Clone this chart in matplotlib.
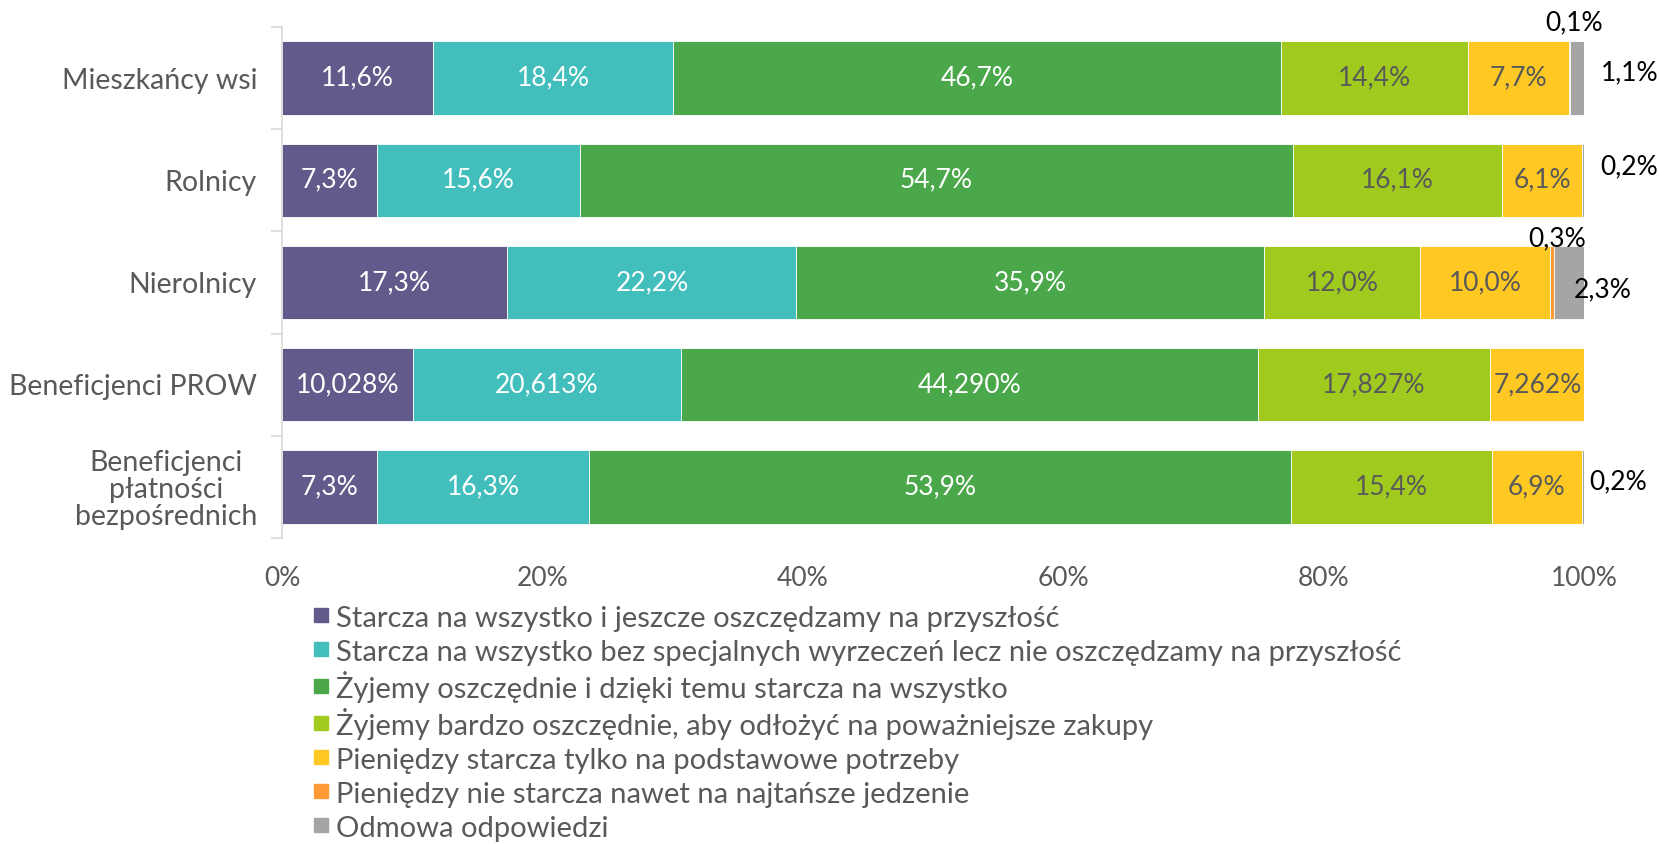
import numpy as np
import matplotlib.pyplot as plt
from matplotlib.lines import Line2D

plt.rcParams['font.family'] = ['Lato', 'DejaVu Sans']

categories = ['Mieszkańcy wsi', 'Rolnicy', 'Nierolnicy', 'Beneficjenci PROW',
              'Beneficjenci\npłatności\nbezpośrednich']
series_names = [
    'Starcza na wszystko i jeszcze oszczędzamy na przyszłość',
    'Starcza na wszystko bez specjalnych wyrzeczeń lecz nie oszczędzamy na przyszłość',
    'Żyjemy oszczędnie i dzięki temu starcza na wszystko',
    'Żyjemy bardzo oszczędnie, aby odłożyć na poważniejsze zakupy',
    'Pieniędzy starcza tylko na podstawowe potrzeby',
    'Pieniędzy nie starcza nawet na najtańsze jedzenie',
    'Odmowa odpowiedzi',
]
s1 = [11.6, 7.3, 17.3, 10.028, 7.3]
s2 = [18.4, 15.6, 22.2, 20.613, 16.3]
s3 = [46.7, 54.7, 35.9, 44.290, 53.9]
s4 = [14.4, 16.1, 12.0, 17.827, 15.4]
s5 = [7.7, 6.1, 10.0, 7.262, 6.9]
s6 = [0.1, 0.0, 0.3, 0.0, 0.0]
s7 = [1.1, 0.2, 2.3, 0.0, 0.2]
decimals = [1, 1, 1, 3, 1]

series = [s1, s2, s3, s4, s5, s6, s7]
colors = ['#625A8A', '#42BEBC', '#4AA84A', '#A0CB1E', '#FFC822', '#FF9933', '#A5A5A5']
label_colors = ['white', 'white', 'white', '#595959', '#595959', 'black', 'black']
grey = '#595959'

# recznie dopasowane przesuniecia etykiet poza slupkami (w % i pt)
top_dx = [0.35, 0, 0.35, 0, 0]
top_dy = [4, 0, -4, 0, 0]
right_dx = [1.3, 1.2, -0.8, 0, 0.4]
right_dy = [4, 10, -5, 4, 4]


def fmt(v, d):
    return f'{v:.{d}f}'.replace('.', ',') + '%'


fig = plt.figure(figsize=(16.59, 8.44), dpi=100)
ax = fig.add_axes([0.170, 0.3626, 0.785, 0.6054])

y = np.arange(len(categories))
left = np.zeros(len(categories))
h = 0.72
for k, vals in enumerate(series):
    vals = np.array(vals)
    ax.barh(y, vals, left=left, height=h, color=colors[k],
            edgecolor='white', linewidth=0.6)
    for i, v in enumerate(vals):
        if v <= 0:
            continue
        cx = left[i] + v / 2
        if v >= 3:
            ax.text(cx, y[i], fmt(v, decimals[i]), ha='center', va='center',
                    color=label_colors[k], fontsize=19)
        elif k == 5:
            ax.annotate(fmt(v, decimals[i]), (cx + top_dx[i], y[i] - h / 2),
                        xytext=(0, top_dy[i]), textcoords='offset points',
                        ha='center', va='bottom', fontsize=19, color='black',
                        annotation_clip=False)
        else:
            ax.annotate(fmt(v, decimals[i]), (left[i] + v + right_dx[i], y[i]),
                        xytext=(0, right_dy[i]), textcoords='offset points',
                        ha='left', va='center', fontsize=19, color='black',
                        annotation_clip=False)
    left += vals

ax.set_xlim(0, 100)
ax.set_ylim(len(categories) - 0.5, -0.5)
ax.set_xticks(np.arange(0, 101, 20))
ax.set_xticklabels([f'{t}%' for t in range(0, 101, 20)])
ax.set_yticks(y)
ax.set_yticklabels(categories)
ax.set_yticks(np.arange(-0.5, len(categories)), minor=True)
ax.tick_params(axis='y', which='major', length=0, pad=18, labelsize=20.5, labelcolor=grey)
ax.tick_params(axis='y', which='minor', length=8, color='#D9D9D9', width=1.2)
ax.tick_params(axis='x', length=0, labelsize=19, labelcolor=grey, pad=20)
for lab in ax.get_yticklabels():
    lab.set_multialignment('center')
    lab.set_linespacing(1.05)
for s in ['top', 'right', 'bottom']:
    ax.spines[s].set_visible(False)
ax.spines['left'].set_color('#D9D9D9')
ax.spines['left'].set_linewidth(1.2)

# kwadratowe znaczniki, zeby wszystkie wiersze legendy mialy rowna wysokosc
handles = [Line2D([], [], marker='s', linestyle='none', markersize=10.5,
                  markerfacecolor=c, markeredgecolor=c) for c in colors]
fig.legend(handles, series_names, loc='upper left', bbox_to_anchor=(0.1876, 0.2862),
           frameon=False, fontsize=21, labelcolor=grey, handlelength=0.7,
           handleheight=1.15, handletextpad=0.15, labelspacing=0.166,
           borderpad=0, borderaxespad=0)

fig.savefig('out.png', dpi=100)
